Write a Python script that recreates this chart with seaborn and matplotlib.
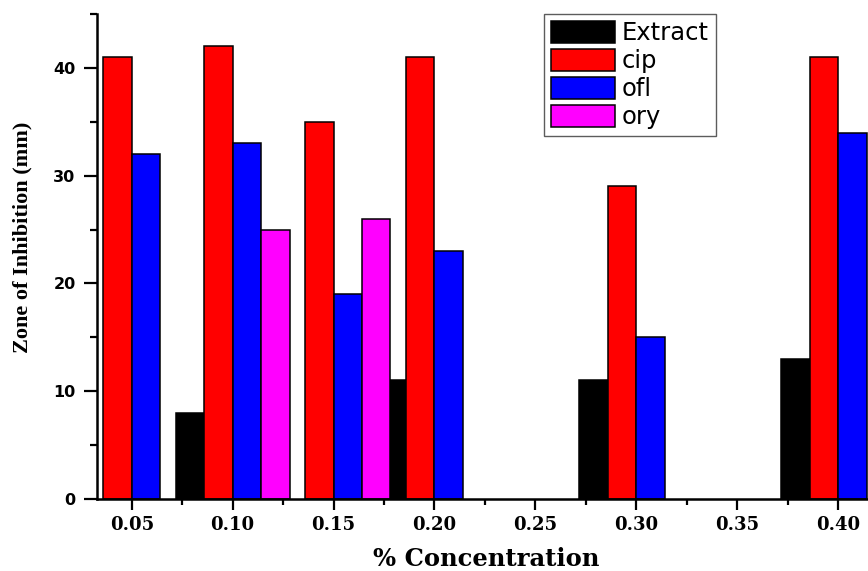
import numpy as np
import pandas as pd
import seaborn as sns
from matplotlib import pyplot as plt
from matplotlib.patches import Patch
from matplotlib.ticker import MultipleLocator

# zone of inhibition (mm) per concentration; NaN = no bar
concentration = [0.05, 0.10, 0.15, 0.20, 0.25, 0.30, 0.35, 0.40]
extract = [np.nan, 8, np.nan, 11, np.nan, 11, np.nan, 13]
cip = [41, 42, 35, 41, np.nan, 29, np.nan, 41]
ofl = [32, 33, 19, 23, np.nan, 15, np.nan, 34]
ory = [np.nan, 25, 26, np.nan, np.nan, np.nan, np.nan, np.nan]

series = ["Extract", "cip", "ofl", "ory"]
colors = {"Extract": "#000000", "cip": "#ff0000", "ofl": "#0000ff", "ory": "#ff00ff"}

df = pd.DataFrame({"conc": concentration, "Extract": extract, "cip": cip, "ofl": ofl, "ory": ory})
long_df = df.melt(id_vars="conc", var_name="sample", value_name="zone").dropna()

sns.set_style("ticks", {"axes.edgecolor": "black", "text.color": "black",
                        "xtick.color": "black", "ytick.color": "black",
                        "axes.labelcolor": "black"})
fig = plt.figure(figsize=(8.68, 5.71), dpi=100)
ax = fig.add_axes([0.1118, 0.1261, 0.8882, 0.8494])

sns.barplot(data=long_df, x="conc", y="zone", hue="sample", hue_order=series,
            palette=colors, native_scale=True, width=1.128, saturation=1,
            edgecolor="black", linewidth=1.1, errorbar=None, legend=False, ax=ax)

ax.set_xlim(0.0328, 0.4148)
ax.set_ylim(0, 45)
ax.xaxis.set_major_locator(MultipleLocator(0.05))
ax.xaxis.set_minor_locator(MultipleLocator(0.025))
ax.yaxis.set_major_locator(MultipleLocator(10))
ax.yaxis.set_minor_locator(MultipleLocator(5))
ax.set_xticks(concentration)
ax.set_xticklabels([f"{c:.2f}" for c in concentration])

for side in ["top", "right"]:
    ax.spines[side].set_visible(False)
for side in ["left", "bottom"]:
    ax.spines[side].set_linewidth(1.8)
    ax.spines[side].set_color("black")

ax.tick_params(axis="y", which="major", length=9.5, width=1.6, pad=6)
ax.tick_params(axis="y", which="minor", length=5, width=1.6)
ax.tick_params(axis="x", which="major", length=8, width=1.6, pad=4)
ax.tick_params(axis="x", which="minor", length=4, width=1.6)

for lab in ax.get_yticklabels():
    lab.set_fontfamily("DejaVu Sans")
    lab.set_fontweight("bold")
    lab.set_fontsize(11.5)
for lab in ax.get_xticklabels():
    lab.set_fontfamily("DejaVu Serif")
    lab.set_fontweight("bold")
    lab.set_fontsize(13)

ax.set_xlabel("% Concentration", fontfamily="DejaVu Serif", fontweight="bold", fontsize=17.5)
ax.xaxis.set_label_coords(0.505, -0.098)
ax.set_ylabel("Zone of Inhibition (mm)", fontfamily="Liberation Serif", fontweight="bold", fontsize=16)
ax.yaxis.set_label_coords(-0.084, 0.54)

handles = [Patch(facecolor=colors[s], edgecolor="black", linewidth=1.1, label=s) for s in series]
leg = ax.legend(handles=handles, loc="upper left", bbox_to_anchor=(0.58, 1.0), borderaxespad=0,
                frameon=True, fancybox=False, edgecolor="#333333", handlelength=2.6,
                handleheight=1.0, labelspacing=0.15, handletextpad=0.3, borderpad=0.3,
                prop={"family": "DejaVu Sans", "size": 17.5})
leg.get_frame().set_linewidth(1.0)

fig.savefig("out.png", dpi=100)
plt.close(fig)
